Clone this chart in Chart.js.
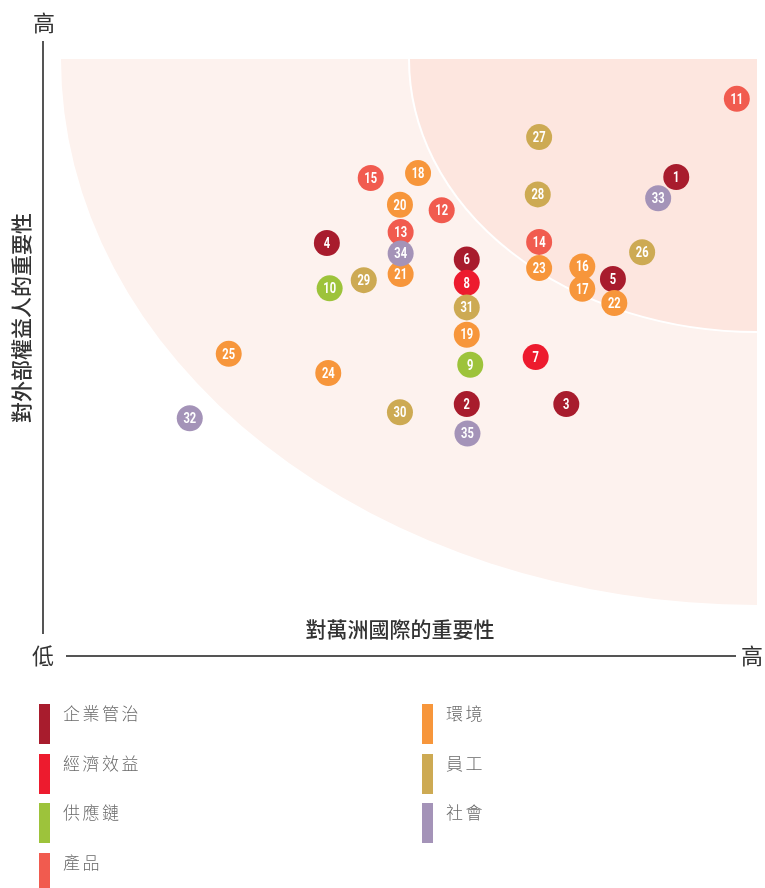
<!DOCTYPE html>
<html>
<head>
<meta charset="utf-8">
<script src="https://cdn.jsdelivr.net/npm/chart.js@4/dist/chart.umd.min.js"></script>
<style>
  body { margin: 0; background: #fff; }
  #wrap { position: relative; width: 765px; height: 888px; overflow: hidden; }
  #chartBox { position: absolute; left: 0; top: 0; width: 765px; height: 690px; }
  #legend { position: absolute; left: 0; top: 0; width: 765px; height: 888px; pointer-events: none; }
  .item { position: absolute; height: 40px; }
  .item .bar { position: absolute; left: 0; top: 0; width: 11px; height: 40px; }
  .item .txt { position: absolute; left: 24px; top: -2px; font: 300 17px "Noto Sans CJK TC", sans-serif; color: #6a6a6a; white-space: nowrap; letter-spacing: 2.5px; line-height: 21px; }
</style>
</head>
<body>
<div id="wrap">
  <div id="chartBox"><canvas id="myChart" width="765" height="690"></canvas></div>
  <div id="legend"></div>
</div>
<script>
const categories = ['企業管治', '經濟效益', '供應鏈', '產品', '環境', '員工', '社會'];
const categoryColors = ['#a81c2d', '#ed1b2e', '#9dc33b', '#f15b4f', '#f7963b', '#cdaa53', '#a493b8'];

// issue number, importance to company (x), importance to stakeholders (y), category index
const issueIds = [1, 2, 3, 4, 5, 6, 7, 8, 9, 10, 11, 12, 13, 14, 15, 16, 17, 18, 19, 20,
                  21, 22, 23, 24, 25, 26, 27, 28, 29, 30, 31, 32, 33, 34, 35];
const companyImportance = [88.4, 58.3, 72.6, 38.2, 79.3, 58.3, 68.2, 58.3, 58.8, 38.6,
                           97.1, 54.7, 48.8, 68.7, 44.5, 74.9, 74.9, 51.3, 58.3, 48.7,
                           48.8, 79.5, 68.7, 38.4, 24.1, 83.5, 68.7, 68.5, 43.5, 48.7,
                           58.3, 18.5, 85.8, 48.8, 58.4];
const stakeholderImportance = [78.4, 36.8, 36.8, 66.3, 59.7, 63.3, 45.4, 59.0, 44.0, 58.0,
                               92.7, 72.3, 68.3, 66.5, 78.2, 62.0, 57.9, 79.1, 49.5, 73.3,
                               60.6, 55.3, 61.7, 42.5, 46.0, 64.6, 85.7, 75.2, 59.5, 35.3,
                               54.5, 34.2, 74.5, 64.4, 31.4];
const issueCategory = [0, 0, 0, 0, 0, 0, 1, 1, 2, 2,
                       3, 3, 3, 3, 3, 4, 4, 4, 4, 4,
                       4, 4, 4, 4, 4, 5, 5, 5, 5, 5,
                       5, 6, 6, 6, 6];

// zones (radius in axis units, centred on the top-right corner)
const outerZone = 100;
const innerZone = 50;

const xTitle = '對萬洲國際的重要性';
const yTitle = '對外部權益人的重要性';
const lowLabel = '低';
const highLabel = '高';

const points = issueIds.map((id, i) => ({ x: companyImportance[i], y: stakeholderImportance[i], id: id }));

const zonesPlugin = {
  id: 'zones',
  beforeDatasetsDraw(chart) {
    const ctx = chart.ctx;
    const xs = chart.scales.x, ys = chart.scales.y;
    const cx = xs.getPixelForValue(100), cy = ys.getPixelForValue(100);
    function zone(r, fill, stroke) {
      const rx = cx - xs.getPixelForValue(100 - r);
      const ry = ys.getPixelForValue(100 - r) - cy;
      ctx.save();
      ctx.beginPath();
      ctx.moveTo(cx, cy);
      ctx.ellipse(cx, cy, rx, ry, 0, Math.PI / 2, Math.PI);
      ctx.closePath();
      ctx.fillStyle = fill;
      ctx.fill();
      if (stroke) {
        ctx.beginPath();
        ctx.ellipse(cx, cy, rx, ry, 0, Math.PI / 2, Math.PI);
        ctx.strokeStyle = stroke;
        ctx.lineWidth = 2;
        ctx.stroke();
      }
      ctx.restore();
    }
    zone(outerZone, '#fdf2ee');
    zone(innerZone, '#fde6df', '#ffffff');
  }
};

const labelsPlugin = {
  id: 'issueLabels',
  afterDatasetsDraw(chart) {
    const ctx = chart.ctx;
    const meta = chart.getDatasetMeta(0);
    ctx.save();
    ctx.fillStyle = '#ffffff';
    ctx.textAlign = 'center';
    ctx.textBaseline = 'middle';
    ctx.font = 'bold 15px Roboto, "Liberation Sans", sans-serif';
    meta.data.forEach((el, i) => {
      // squeeze horizontally for a condensed look
      ctx.save();
      ctx.translate(el.x, el.y + 1);
      ctx.scale(0.74, 1);
      ctx.fillText(String(issueIds[i]), 0, 0);
      ctx.restore();
    });
    ctx.restore();
  }
};

const axesPlugin = {
  id: 'frame',
  afterDraw(chart) {
    const ctx = chart.ctx;
    ctx.save();
    ctx.strokeStyle = '#555';
    ctx.lineWidth = 2;
    ctx.beginPath();
    ctx.moveTo(43, 41); ctx.lineTo(43, 634);
    ctx.moveTo(66, 656); ctx.lineTo(736, 656);
    ctx.stroke();

    ctx.fillStyle = '#333';
    ctx.textAlign = 'center';
    ctx.textBaseline = 'middle';
    ctx.font = '22px "Noto Sans CJK TC", sans-serif';
    ctx.fillText(highLabel, 44, 23);
    ctx.fillText(lowLabel, 43, 656);
    ctx.fillText(highLabel, 752, 656);

    ctx.font = '500 21px "Noto Sans CJK TC", sans-serif';
    ctx.fillText(xTitle, 400, 629);
    ctx.translate(21, 318);
    ctx.rotate(-Math.PI / 2);
    ctx.fillText(yTitle, 0, 0);
    ctx.restore();
  }
};

const config = {
  type: 'scatter',
  data: {
    datasets: [{
      data: points,
      pointRadius: 13,
      pointHoverRadius: 13,
      pointBorderWidth: 0,
      pointBackgroundColor: issueCategory.map(c => categoryColors[c]),
      pointBorderColor: issueCategory.map(c => categoryColors[c])
    }]
  },
  options: {
    responsive: false,
    animation: false,
    events: [],
    layout: { autoPadding: false, padding: { left: 61, top: 59, right: 8, bottom: 85 } },
    plugins: { legend: { display: false }, tooltip: { enabled: false } },
    scales: {
      x: { type: 'linear', min: 0, max: 100, display: false },
      y: { type: 'linear', min: 0, max: 100, display: false }
    }
  },
  plugins: [zonesPlugin, labelsPlugin, axesPlugin]
};

const myChart = new Chart(document.getElementById('myChart'), config);

// legend, two columns
const legend = document.getElementById('legend');
categories.forEach((name, i) => {
  const col = i < 4 ? 0 : 1;
  const row = i < 4 ? i : i - 4;
  const item = document.createElement('div');
  item.className = 'item';
  item.style.left = (col === 0 ? 39 : 422) + 'px';
  item.style.top = (704 + row * 49.5) + 'px';
  item.innerHTML = '<div class="bar" style="background:' + categoryColors[i] + '"></div><div class="txt"></div>';
  item.querySelector('.txt').textContent = name;
  legend.appendChild(item);
});
</script>
</body>
</html>
